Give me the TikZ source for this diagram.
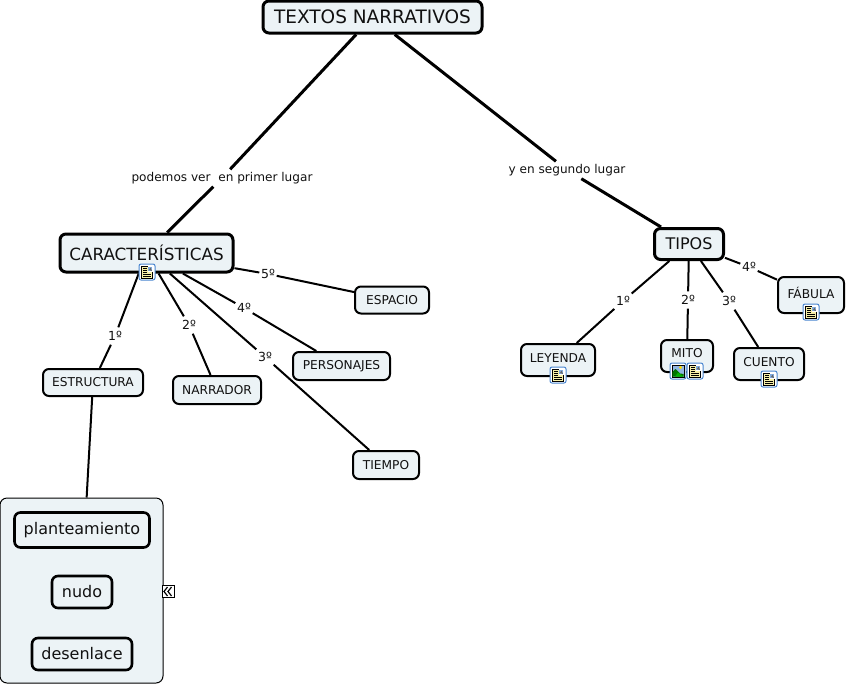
\documentclass[tikz,border=0pt]{standalone}
\usepackage{fontspec}
\setmainfont{DejaVu Sans}
\definecolor{boxfill}{HTML}{ECF3F6}
\definecolor{inkc}{HTML}{111111}
\definecolor{iconblue}{HTML}{4A86D0}
\definecolor{pageyellow}{HTML}{F6EFA8}
\tikzset{
  x=1pt,y=-1pt,
  concept/.style={draw=black,fill=boxfill,rounded corners=6pt,inner sep=0pt,text=inkc,anchor=center},
  bigbox/.style={concept,line width=3pt},
  midbox/.style={concept,line width=2.6pt,font=\fontsize{16}{19}\selectfont},
  smallbox/.style={concept,line width=2pt,font=\fontsize{12.2}{14}\selectfont},
  upshift/.style={text height=9pt,text depth=#1},
  linktext/.style={inner sep=0pt,text=inkc,font=\fontsize{12.1}{14}\selectfont,minimum height=17pt},
  numtext/.style={linktext,font=\fontsize{12.5}{14}\selectfont,minimum width=17pt},
  heavy/.style={line width=3pt,draw=black},
  light/.style={line width=2pt,draw=black},
  noteicon/.pic={
    \draw[iconblue,fill=white,line width=1pt,rounded corners=2pt] (-8,-8) rectangle (8,8);
    \draw[black,fill=pageyellow,line width=1pt] (-5.5,-6) rectangle (5.5,6);
    \fill[white] (0.5,-6) rectangle (5.5,-0.5);
    \fill[iconblue!70] (0.8,-5.5) rectangle (5,-1);
    \fill[black!60] (2,-2) -- (3.5,-4.5) -- (5,-1) -- cycle;
    \foreach \yy in {-4,-2,0}{\draw[black,line width=.8pt] (-4,\yy) -- (-0.5,\yy);}
    \foreach \yy in {2,4}{\draw[black,line width=.8pt] (-4,\yy) -- (4,\yy);}
  },
  imageicon/.pic={
    \draw[iconblue,fill=white,line width=1pt,rounded corners=2pt] (-8,-8) rectangle (8,8);
    \draw[black,fill=iconblue!60,line width=.8pt] (-6,-6) rectangle (6,6);
    \fill[yellow!80!orange] (2.5,-3.5) circle (1.7);
    \fill[green!45!black] (-5.6,5.6) -- (-5.6,1) -- (-2.5,-2) -- (2,2.5) -- (5.6,3) -- (5.6,5.6) -- cycle;
    \fill[green!70!black] (-3,5.6) -- (0,1.5) -- (5.6,5.6) -- cycle;
  },
}
\begin{document}
\begin{tikzpicture}
\useasboundingbox (0,0) rectangle (846,686);
% concepts
\node[bigbox,minimum width=219pt,minimum height=32pt,font=\fontsize{18.5}{22}\selectfont] (title) at (372.5,17) {TEXTOS NARRATIVOS};
\node[bigbox,minimum width=173pt,minimum height=38pt,font=\fontsize{16.8}{20}\selectfont] (carac) at (146.5,253) {CARACTERÍSTICAS};
\node[bigbox,minimum width=69pt,minimum height=31pt,font=\fontsize{16}{19}\selectfont] (tipos) at (689,244) {TIPOS};
\node[smallbox,minimum width=100pt,minimum height=27pt] (estructura) at (93,382.5) {ESTRUCTURA};
\node[smallbox,minimum width=88pt,minimum height=28pt] (narrador) at (217,390) {NARRADOR};
\node[smallbox,minimum width=74pt,minimum height=27pt] (espacio) at (392,300) {ESPACIO};
\node[smallbox,minimum width=97pt,minimum height=28pt] (personajes) at (341.5,366) {PERSONAJES};
\node[smallbox,minimum width=66pt,minimum height=28pt] (tiempo) at (386,465) {TIEMPO};
\node[smallbox,upshift=4pt,minimum width=74pt,minimum height=32pt] (leyenda) at (558,360) {LEYENDA};
\node[smallbox,upshift=6pt,minimum width=52pt,minimum height=32pt] (mito) at (687,356) {MITO};
\node[smallbox,upshift=4pt,minimum width=70pt,minimum height=32pt] (cuento) at (769,364) {CUENTO};
\node[smallbox,upshift=2pt,minimum width=66pt,minimum height=36pt] (fabula) at (811,295) {FÁBULA};
% nested group
\node[draw=black,fill=boxfill,line width=1pt,rounded corners=7pt,minimum width=163pt,minimum height=185pt,inner sep=0pt] (grupo) at (81.5,590.5) {};
\node[midbox,minimum width=135pt,minimum height=35pt] (plant) at (82,530) {planteamiento};
\node[midbox,minimum width=60pt,minimum height=32pt] (nudo) at (82,592) {nudo};
\node[midbox,minimum width=100pt,minimum height=32pt] (desen) at (82,654) {desenlace};
\node[draw=black,fill=white,line width=1pt,minimum size=12pt,inner sep=0pt] (plegar) at (168,591.5) {};
\draw[black,line width=1.2pt] (plegar.center)+(-0.5,-4.5) -- +(-4,0) -- +(-0.5,4.5) +(3.5,-4.5) -- +(0,0) -- +(3.5,4.5);
% link labels
\node[linktext] (lprimer) at (222,178) {podemos ver\ \ en primer lugar};
\node[linktext] (lsegundo) at (567,170) {y en segundo lugar};
\node[numtext] (c1) at (115,336) {1º};
\node[numtext] (c2) at (189,325) {2º};
\node[numtext] (c3) at (265,357) {3º};
\node[numtext] (c4) at (244,308) {4º};
\node[numtext] (c5) at (268,274) {5º};
\node[numtext] (t1) at (623,301) {1º};
\node[numtext] (t2) at (688,300) {2º};
\node[numtext] (t3) at (729,301) {3º};
\node[numtext] (t4) at (749,267) {4º};
% connectors
\draw[heavy] (title) -- (lprimer);
\draw[heavy] (lprimer) -- (carac);
\draw[heavy] (title) -- (lsegundo);
\draw[heavy] (lsegundo) -- (tipos);
\foreach \lab/\dest in {c1/estructura,c2/narrador,c3/tiempo,c4/personajes,c5/espacio}{
  \draw[light] (carac) -- (\lab);
  \draw[light] (\lab) -- (\dest);
}
\foreach \lab/\dest in {t1/leyenda,t2/mito,t3/cuento,t4/fabula}{
  \draw[light] (tipos) -- (\lab);
  \draw[light] (\lab) -- (\dest);
}
\draw[light] (estructura) -- (grupo);
% icons
\pic at (147,272) {noteicon};
\pic at (558,375) {noteicon};
\pic at (678,371) {imageicon};
\pic at (695,371) {noteicon};
\pic at (769,379) {noteicon};
\pic at (811,312) {noteicon};
\end{tikzpicture}
\end{document}
